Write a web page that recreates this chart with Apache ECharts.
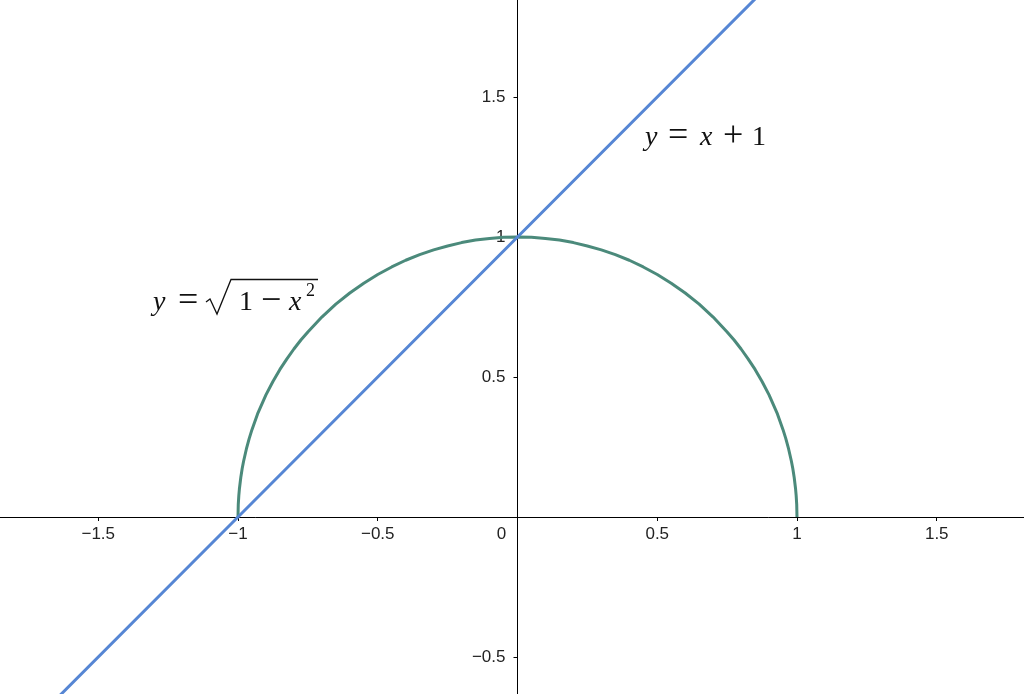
<!DOCTYPE html>
<html>
<head>
<meta charset="utf-8">
<script src="https://cdn.jsdelivr.net/npm/echarts@6/dist/echarts.min.js"></script>
<style>
    html, body { margin: 0; padding: 0; background: #fff; }
    #main { width: 1024px; height: 694px; }
</style>
</head>
<body>
<div id="main"></div>
<script>
// values
var lineX = [-1.9, -1, 0, 1.9];
var lineY = [-0.9, 0, 1, 2.9];

var arcX = [-1, -0.999, -0.997, -0.995, -0.99, -0.985, -0.98, -0.97, -0.96, -0.95, -0.93, -0.9, -0.875, -0.85, -0.825, -0.8, -0.775, -0.75,
    -0.7, -0.65, -0.6, -0.55, -0.5, -0.45, -0.4, -0.35, -0.3, -0.25, -0.2, -0.15, -0.1, -0.05, 0,
    0.05, 0.1, 0.15, 0.2, 0.25, 0.3, 0.35, 0.4, 0.45, 0.5, 0.55, 0.6, 0.65, 0.7,
    0.75, 0.775, 0.8, 0.825, 0.85, 0.875, 0.9, 0.93, 0.95, 0.96, 0.97, 0.98, 0.985, 0.99, 0.995, 0.997, 0.999, 1];
var arcY = [0, 0.045, 0.077, 0.1, 0.141, 0.173, 0.199, 0.243, 0.28, 0.312, 0.368, 0.436, 0.484, 0.527, 0.565, 0.6, 0.632, 0.661,
    0.714, 0.76, 0.8, 0.835, 0.866, 0.893, 0.917, 0.937, 0.954, 0.968, 0.98, 0.989, 0.995, 0.999, 1,
    0.999, 0.995, 0.989, 0.98, 0.968, 0.954, 0.937, 0.917, 0.893, 0.866, 0.835, 0.8, 0.76, 0.714,
    0.661, 0.632, 0.6, 0.565, 0.527, 0.484, 0.436, 0.368, 0.312, 0.28, 0.243, 0.199, 0.173, 0.141, 0.1, 0.077, 0.045, 0];

var xTicks = [-1.5, -1, -0.5, 0, 0.5, 1, 1.5];
var yTicks = [-0.5, 0.5, 1, 1.5];

var chart = (function () {
    var Return = {
        init: function () {
            initChart();
        }
    }
    var zip = function (xs, ys) {
        return xs.map(function (x, i) { return [x, ys[i]]; });
    }
    var fmt = function (v) {
        return String(v).replace('-', '\u2212');
    }
    var initChart = function () {
        var myChart = echarts.init(document.getElementById('main'));
        var serif = '"Liberation Serif", "DejaVu Serif", serif';
        var sans = '"Liberation Sans", Arial, sans-serif';
        var txt = function (x, y, s, italic, size) {
            return {
                type: 'text', x: x, y: y, z: 10,
                style: {
                    text: s, fill: '#111',
                    font: (italic ? 'italic ' : '') + (size || 28) + 'px ' + serif,
                    textAlign: 'left', textVerticalAlign: 'bottom'
                }
            };
        }
        var option = {
            animation: false,
            backgroundColor: '#fff',
            grid: { left: 0, right: 0, top: 0, bottom: 0, outerBoundsMode: 'none', containLabel: false },
            xAxis: {
                type: 'value',
                min: -1.8515, max: 1.8122,
                offset: -177,
                splitLine: { show: false },
                axisLine: { onZero: false, lineStyle: { color: '#000', width: 1 } },
                axisTick: { length: 4, customValues: xTicks, lineStyle: { color: '#000' } },
                axisLabel: {
                    customValues: xTicks,
                    margin: 9, fontSize: 17, color: '#222', fontFamily: sans,
                    formatter: function (v) {
                        if (v === 0) return '{z|0}';
                        return fmt(v);
                    },
                    rich: {
                        z: { fontSize: 17, color: '#222', padding: [0, 32, 0, 0], fontFamily: sans }
                    }
                }
            },
            yAxis: {
                type: 'value',
                min: -0.6321, max: 1.8464,
                offset: -517.5,
                splitLine: { show: false },
                axisLine: { onZero: false, lineStyle: { color: '#000', width: 1 } },
                axisTick: { length: 4, customValues: yTicks, lineStyle: { color: '#000' } },
                axisLabel: {
                    customValues: yTicks,
                    margin: 12, fontSize: 17, color: '#222', fontFamily: sans,
                    formatter: function (v) {
                        return fmt(v);
                    }
                }
            },
            series: [
                {
                    type: 'line',
                    data: zip(arcX, arcY),
                    showSymbol: false,
                    lineStyle: { color: '#4b8a7b', width: 3, join: 'round' },
                    z: 2
                },
                {
                    type: 'line',
                    data: zip(lineX, lineY),
                    showSymbol: false,
                    lineStyle: { color: '#5686d4', width: 3 },
                    z: 3
                }
            ],
            graphic: [
                // y = x + 1
                txt(645, 152, 'y', true),
                txt(668, 155, '=', false, 36),
                txt(700, 152, 'x', true),
                txt(723, 155, '+', false, 36),
                txt(752, 152, '1', false),
                // y = sqrt(1 - x^2)
                txt(153, 317, 'y', true),
                txt(178, 320, '=', false, 36),
                {
                    type: 'polyline', z: 10,
                    shape: { points: [[206, 302], [210, 299], [217, 314], [231, 279.5], [318, 279.5]] },
                    style: { stroke: '#111', lineWidth: 1.3, fill: null }
                },
                txt(239, 317, '1', false),
                txt(261, 320, '\u2212', false, 36),
                txt(289, 317, 'x', true),
                txt(306, 300, '2', false, 18)
            ]
        };
        myChart.setOption(option);
    }
    return Return;
})();

; (function () {
    chart.init();
})();
</script>
</body>
</html>
